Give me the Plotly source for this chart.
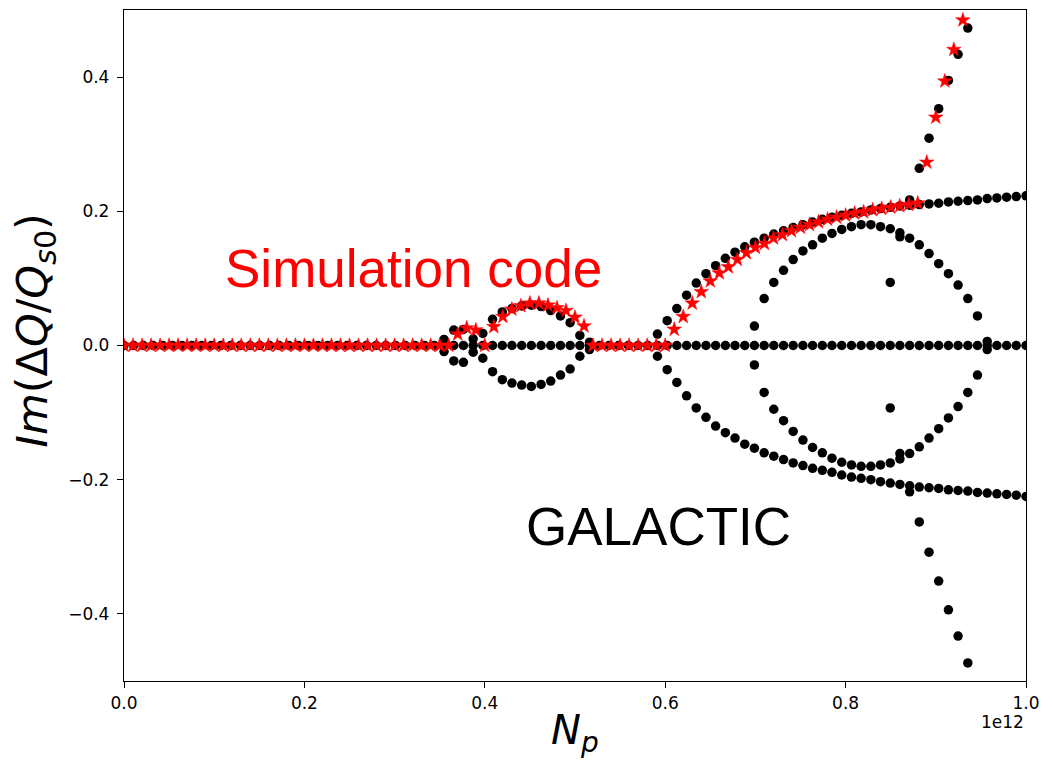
import plotly.graph_objects as go

# ---------------------------------------------------------------------------
# GALACTIC eigen-solver: N_p scan points (units of 1e12 protons)
# ---------------------------------------------------------------------------
np_galactic = [
    0.0000, 0.0108, 0.0215, 0.0323, 0.0430, 0.0538, 0.0645, 0.0753, 0.0860, 0.0968,
    0.1075, 0.1183, 0.1290, 0.1398, 0.1505, 0.1613, 0.1720, 0.1828, 0.1935, 0.2043,
    0.2151, 0.2258, 0.2366, 0.2473, 0.2581, 0.2688, 0.2796, 0.2903, 0.3011, 0.3118,
    0.3226, 0.3333, 0.3441, 0.3548, 0.3656, 0.3763, 0.3871, 0.3978, 0.4086, 0.4194,
    0.4301, 0.4409, 0.4516, 0.4624, 0.4731, 0.4839, 0.4946, 0.5054, 0.5161, 0.5269,
    0.5376, 0.5484, 0.5591, 0.5699, 0.5806, 0.5914, 0.6022, 0.6129, 0.6237, 0.6344,
    0.6452, 0.6559, 0.6667, 0.6774, 0.6882, 0.6989, 0.7097, 0.7204, 0.7312, 0.7419,
    0.7527, 0.7634, 0.7742, 0.7849, 0.7957, 0.8065, 0.8172, 0.8280, 0.8387, 0.8495,
    0.8602, 0.8710, 0.8817, 0.8925, 0.9032, 0.9140, 0.9247, 0.9355, 0.9462, 0.9570,
    0.9677, 0.9785, 0.9892, 1.0000,
]

# Stable modes (Im = 0) at every scan point
stable_im = [
    0.0, 0.0, 0.0, 0.0, 0.0, 0.0, 0.0, 0.0, 0.0, 0.0,
    0.0, 0.0, 0.0, 0.0, 0.0, 0.0, 0.0, 0.0, 0.0, 0.0,
    0.0, 0.0, 0.0, 0.0, 0.0, 0.0, 0.0, 0.0, 0.0, 0.0,
    0.0, 0.0, 0.0, 0.0, 0.0, 0.0, 0.0, 0.0, 0.0, 0.0,
    0.0, 0.0, 0.0, 0.0, 0.0, 0.0, 0.0, 0.0, 0.0, 0.0,
    0.0, 0.0, 0.0, 0.0, 0.0, 0.0, 0.0, 0.0, 0.0, 0.0,
    0.0, 0.0, 0.0, 0.0, 0.0, 0.0, 0.0, 0.0, 0.0, 0.0,
    0.0, 0.0, 0.0, 0.0, 0.0, 0.0, 0.0, 0.0, 0.0, 0.0,
    0.0, 0.0, 0.0, 0.0, 0.0, 0.0, 0.0, 0.0, 0.0, 0.0,
    0.0, 0.0, 0.0, 0.0,
]

# First coupling bubble (scan points 33..48)
bubble_np = [0.3548, 0.3656, 0.3763, 0.3871, 0.3978, 0.4086, 0.4194, 0.4301,
             0.4409, 0.4516, 0.4624, 0.4731, 0.4839, 0.4946, 0.5054, 0.5161]
bubble_im_pos = [0.009, 0.023, 0.024, 0.010, 0.018, 0.039, 0.050, 0.055,
                 0.059, 0.060, 0.058, 0.052, 0.044, 0.034, 0.015, 0.005]
bubble_im_neg = [-0.009, -0.023, -0.025, -0.010, -0.019, -0.039, -0.051, -0.056,
                 -0.059, -0.061, -0.058, -0.053, -0.044, -0.035, -0.016, -0.006]

# Main TMCI branch (scan points 55..93)
tmci_np = [0.5914, 0.6022, 0.6129, 0.6237, 0.6344, 0.6452, 0.6559, 0.6667, 0.6774, 0.6882,
           0.6989, 0.7097, 0.7204, 0.7312, 0.7419, 0.7527, 0.7634, 0.7742, 0.7849, 0.7957,
           0.8065, 0.8172, 0.8280, 0.8387, 0.8495, 0.8602, 0.8710, 0.8817, 0.8925, 0.9032,
           0.9140, 0.9247, 0.9355, 0.9462, 0.9570, 0.9677, 0.9785, 0.9892, 1.0000]
tmci_im_pos = [0.017, 0.037, 0.055, 0.075, 0.093, 0.107, 0.119, 0.130, 0.139, 0.147,
               0.154, 0.160, 0.166, 0.171, 0.176, 0.180, 0.184, 0.188, 0.191, 0.194,
               0.197, 0.199, 0.202, 0.204, 0.206, 0.208, 0.209, 0.210, 0.211, 0.212,
               0.214, 0.215, 0.216, 0.217, 0.219, 0.220, 0.221, 0.222, 0.223]
tmci_im_neg = [-0.016, -0.036, -0.055, -0.075, -0.093, -0.107, -0.120, -0.130, -0.138, -0.147,
               -0.153, -0.160, -0.165, -0.170, -0.175, -0.179, -0.183, -0.186, -0.189, -0.193,
               -0.196, -0.198, -0.200, -0.203, -0.205, -0.207, -0.209, -0.211, -0.212, -0.213,
               -0.215, -0.216, -0.217, -0.219, -0.220, -0.221, -0.222, -0.223, -0.225]

# Inner coupled pair (scan points 65..89)
inner_np = [0.6989, 0.7097, 0.7204, 0.7312, 0.7419, 0.7527, 0.7634, 0.7742, 0.7849, 0.7957,
            0.8065, 0.8172, 0.8280, 0.8387, 0.8495, 0.8602, 0.8710, 0.8817, 0.8925, 0.9032,
            0.9140, 0.9247, 0.9355, 0.9462, 0.9570]
inner_im_pos = [0.029, 0.070, 0.094, 0.112, 0.128, 0.141, 0.150, 0.160, 0.167, 0.173,
                0.177, 0.180, 0.180, 0.177, 0.174, 0.168, 0.160, 0.150, 0.137, 0.122,
                0.107, 0.090, 0.070, 0.044, 0.006]
inner_im_neg = [-0.029, -0.070, -0.095, -0.112, -0.128, -0.141, -0.152, -0.160, -0.168, -0.174,
                -0.178, -0.180, -0.180, -0.178, -0.175, -0.169, -0.161, -0.151, -0.138, -0.124,
                -0.108, -0.091, -0.070, -0.044, -0.006]

# Fast-growing branch (scan points 81..87)
steep_np = [0.8710, 0.8817, 0.8925, 0.9032, 0.9140, 0.9247, 0.9355]
steep_im_pos = [0.217, 0.264, 0.309, 0.353, 0.395, 0.434, 0.473]
steep_im_neg = [-0.218, -0.263, -0.308, -0.351, -0.394, -0.433, -0.473]

# Isolated solutions near N_p = 0.85e12 - 0.86e12
extra_np = [0.8495, 0.8495, 0.8602, 0.8602]
extra_im = [0.094, -0.093, 0.162, -0.161]

# ---------------------------------------------------------------------------
# Simulation code: most unstable mode per intensity
# ---------------------------------------------------------------------------
sim_np = [
    0.00, 0.01, 0.02, 0.03, 0.04, 0.05, 0.06, 0.07, 0.08, 0.09,
    0.10, 0.11, 0.12, 0.13, 0.14, 0.15, 0.16, 0.17, 0.18, 0.19,
    0.20, 0.21, 0.22, 0.23, 0.24, 0.25, 0.26, 0.27, 0.28, 0.29,
    0.30, 0.31, 0.32, 0.33, 0.34, 0.35, 0.36, 0.37, 0.38, 0.39,
    0.40, 0.41, 0.42, 0.43, 0.44, 0.45, 0.46, 0.47, 0.48, 0.49,
    0.50, 0.51, 0.52, 0.53, 0.54, 0.55, 0.56, 0.57, 0.58, 0.59,
    0.60, 0.61, 0.62, 0.63, 0.64, 0.65, 0.66, 0.67, 0.68, 0.69,
    0.70, 0.71, 0.72, 0.73, 0.74, 0.75, 0.76, 0.77, 0.78, 0.79,
    0.80, 0.81, 0.82, 0.83, 0.84, 0.85, 0.86, 0.87, 0.88, 0.89,
    0.90, 0.91, 0.92, 0.93,
]
sim_im = [
    0.0, 0.0, 0.0, 0.0, 0.0, 0.0, 0.0, 0.0, 0.0, 0.0,
    0.0, 0.0, 0.0, 0.0, 0.0, 0.0, 0.0, 0.0, 0.0, 0.0,
    0.0, 0.0, 0.0, 0.0, 0.0, 0.0, 0.0, 0.0, 0.0, 0.0,
    0.0, 0.0, 0.0, 0.0, 0.0, 0.0, 0.0, 0.017, 0.026, 0.023,
    0.000, 0.028, 0.043, 0.054, 0.059, 0.063, 0.063, 0.060, 0.056, 0.052,
    0.042, 0.029, 0.0, 0.0, 0.0, 0.0, 0.0, 0.0, 0.0, 0.0,
    0.0, 0.024, 0.043, 0.063, 0.080, 0.096, 0.108, 0.117, 0.128, 0.138,
    0.146, 0.152, 0.160, 0.165, 0.171, 0.176, 0.180, 0.184, 0.188, 0.191,
    0.194, 0.197, 0.199, 0.202, 0.204, 0.206, 0.208, 0.210, 0.212, 0.273,
    0.340, 0.394, 0.441, 0.485,
]

x_ticks = [0.0, 0.2, 0.4, 0.6, 0.8, 1.0]
x_tick_text = ["0.0", "0.2", "0.4", "0.6", "0.8", "1.0"]
y_ticks = [-0.4, -0.2, 0.0, 0.2, 0.4]
y_tick_text = ["\u22120.4", "\u22120.2", "0.0", "0.2", "0.4"]

galactic_sets = [
    (np_galactic, stable_im),
    (bubble_np, bubble_im_pos),
    (bubble_np, bubble_im_neg),
    (tmci_np, tmci_im_pos),
    (tmci_np, tmci_im_neg),
    (inner_np, inner_im_pos),
    (inner_np, inner_im_neg),
    (steep_np, steep_im_pos),
    (steep_np, steep_im_neg),
    (extra_np, extra_im),
]

fig = go.Figure()

dot_style = dict(color="#000000", size=9.5, line=dict(width=0))
for xs, ys in galactic_sets:
    fig.add_trace(go.Scatter(x=xs, y=ys, mode="markers", marker=dot_style,
                             showlegend=False, hoverinfo="x+y"))

fig.add_trace(go.Scatter(
    x=sim_np, y=sim_im, mode="markers", showlegend=False,
    marker=dict(symbol="star", color="#ff0000", size=11,
                line=dict(width=0.5, color="#ff0000")),
))

axis_common = dict(
    ticks="outside", ticklen=6, tickwidth=1.3, tickcolor="black",
    showline=True, linecolor="black", linewidth=1.3, mirror=True,
    showgrid=False, zeroline=False,
    tickfont=dict(family="DejaVu Sans", size=17, color="black"),
)
fig.update_xaxes(range=[0, 1], tickmode="array", tickvals=x_ticks,
                 ticktext=x_tick_text, **axis_common)
fig.update_yaxes(range=[-0.5, 0.5], tickmode="array", tickvals=y_ticks,
                 ticktext=y_tick_text, ticklabelstandoff=4, **axis_common)

fig.update_layout(
    width=1053, height=761,
    margin=dict(l=124, r=27, t=10, b=80),
    plot_bgcolor="white", paper_bgcolor="white",
    font=dict(family="DejaVu Sans", color="black"),
    annotations=[
        dict(text="<i>Im</i>(\u0394<i>Q</i>/<i>Q</i><sub><i>s</i>0</sub>)",
             xref="paper", yref="paper", x=-0.099, y=0.523, textangle=-90,
             xanchor="center", yanchor="middle", showarrow=False,
             font=dict(family="DejaVu Sans", size=43, color="black")),
        dict(text="<i>N</i><sub><i>p</i></sub>",
             xref="paper", yref="paper", x=0.5, y=-0.078,
             xanchor="center", yanchor="middle", showarrow=False,
             font=dict(family="DejaVu Sans", size=40, color="black")),
        dict(text="1e12", xref="paper", yref="paper", x=1.0, y=-0.061,
             xanchor="right", yanchor="middle", showarrow=False,
             font=dict(family="DejaVu Sans", size=17, color="black")),
        dict(text="Simulation code", xref="x", yref="y", x=0.321, y=0.115,
             xanchor="center", yanchor="middle", showarrow=False,
             font=dict(family="Liberation Sans", size=53, color="#ff0000")),
        dict(text="GALACTIC", xref="x", yref="y", x=0.593, y=-0.270,
             xanchor="center", yanchor="middle", showarrow=False,
             font=dict(family="Liberation Sans", size=53, color="black")),
    ],
)

fig.write_html("out.html")
